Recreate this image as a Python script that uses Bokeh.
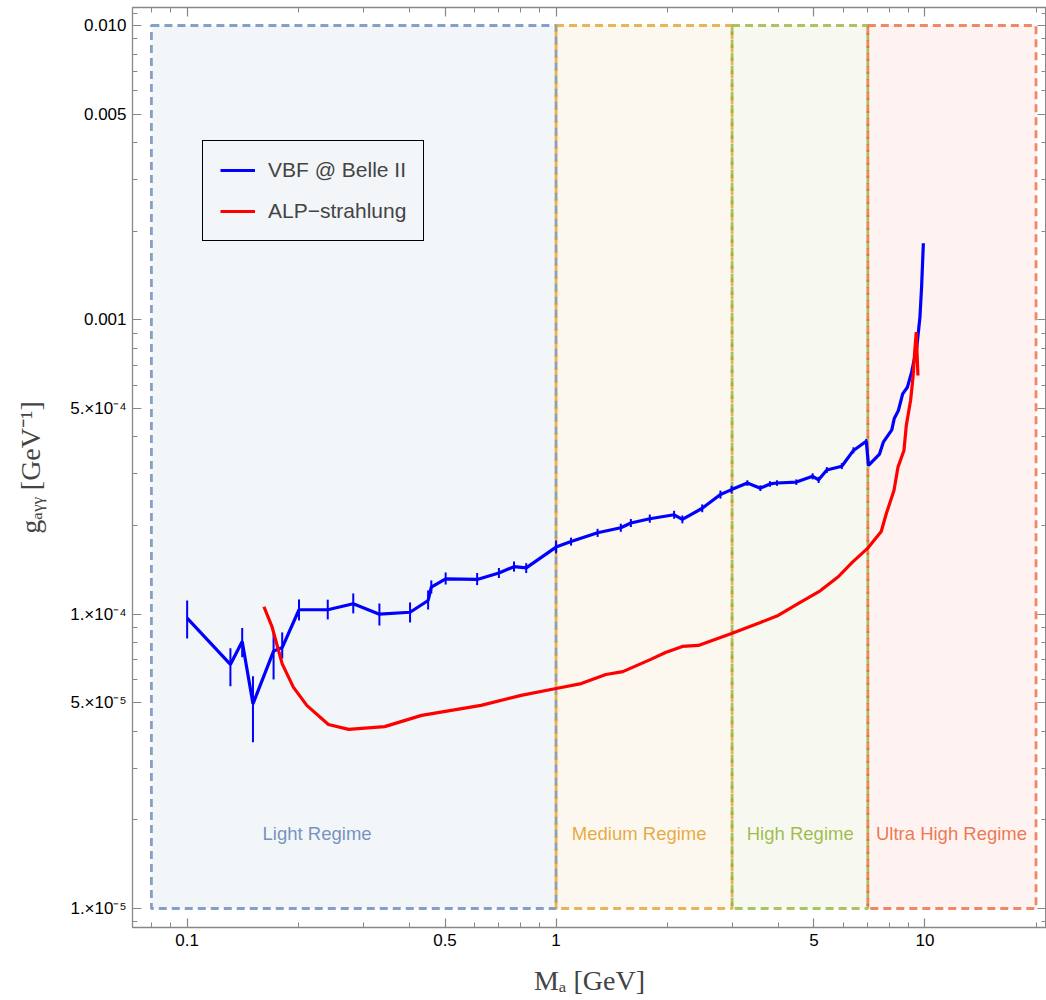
from bokeh.plotting import figure
from bokeh.models import Range1d, FixedTicker, LogAxis, Legend, LegendItem
from bokeh.embed import file_html
from bokeh.resources import INLINE
from bokeh.core.properties import value

# ---------------- data ----------------
vbf_m = [0.100, 0.131, 0.141, 0.1508, 0.1715, 0.181, 0.201, 0.2405, 0.282, 0.332,
         0.402, 0.450, 0.459, 0.502, 0.611, 0.700, 0.769, 0.830, 1.000, 1.098,
         1.296, 1.498, 1.595, 1.795, 2.089, 2.20, 2.49, 2.79, 2.99, 3.30,
         3.58, 3.80, 3.97, 4.48, 4.96, 5.15, 5.42, 5.95, 6.40, 6.93,
         7.03, 7.53, 7.71, 8.13, 8.25, 8.47, 8.70, 8.96, 9.20, 9.50,
         9.69, 9.79, 9.90]
vbf_g = [9.7e-5, 6.75e-5, 8.08e-5, 4.96e-5, 7.49e-5, 7.7e-5, 1.035e-4, 1.035e-4, 1.085e-4, 1.0e-4,
         1.015e-4, 1.113e-4, 1.235e-4, 1.318e-4, 1.312e-4, 1.38e-4, 1.45e-4, 1.436e-4, 1.69e-4, 1.766e-4,
         1.89e-4, 1.966e-4, 2.04e-4, 2.11e-4, 2.176e-4, 2.10e-4, 2.29e-4, 2.55e-4, 2.65e-4, 2.79e-4,
         2.68e-4, 2.77e-4, 2.79e-4, 2.81e-4, 2.94e-4, 2.86e-4, 3.09e-4, 3.18e-4, 3.60e-4, 3.87e-4,
         3.20e-4, 3.50e-4, 3.84e-4, 4.23e-4, 4.61e-4, 4.92e-4, 5.60e-4, 5.90e-4, 6.64e-4, 8.07e-4,
         1.02e-3, 1.29e-3, 1.82e-3]

# error bars (first 40 points)
err_m = vbf_m[:40]
err_lo = [8.27e-5, 5.69e-5, 7.14e-5, 3.67e-5, 6.0e-5, 7.07e-5, 9.52e-5, 9.6e-5, 1.006e-4, 9.15e-5,
          9.37e-5, 1.037e-4, 1.176e-4, 1.261e-4, 1.255e-4, 1.327e-4, 1.395e-4, 1.38e-4, 1.608e-4, 1.71e-4,
          1.83e-4, 1.905e-4, 1.977e-4, 2.045e-4, 2.11e-4, 2.035e-4, 2.22e-4, 2.47e-4, 2.57e-4, 2.73e-4,
          2.62e-4, 2.71e-4, 2.73e-4, 2.75e-4, 2.87e-4, 2.79e-4, 3.02e-4, 3.11e-4, 3.52e-4, 3.80e-4]
err_hi = [1.113e-4, 7.66e-5, 8.98e-5, 6.15e-5, 8.6e-5, 8.67e-5, 1.122e-4, 1.12e-4, 1.176e-4, 1.087e-4,
          1.096e-4, 1.204e-4, 1.302e-4, 1.386e-4, 1.38e-4, 1.435e-4, 1.51e-4, 1.49e-4, 1.78e-4, 1.82e-4,
          1.95e-4, 2.03e-4, 2.105e-4, 2.18e-4, 2.245e-4, 2.165e-4, 2.36e-4, 2.63e-4, 2.73e-4, 2.85e-4,
          2.74e-4, 2.83e-4, 2.85e-4, 2.87e-4, 3.01e-4, 2.93e-4, 3.16e-4, 3.26e-4, 3.69e-4, 3.94e-4]

alp_m = [0.1615, 0.170, 0.181, 0.194, 0.211, 0.2415, 0.274, 0.343, 0.432, 0.626,
         0.804, 1.0, 1.17, 1.365, 1.517, 1.806, 1.98, 2.2, 2.43, 2.99,
         3.58, 4.0, 4.59, 5.2, 5.82, 6.35, 7.01, 7.61, 7.85, 8.24,
         8.45, 8.77, 8.9, 9.14, 9.28, 9.37, 9.47, 9.57]
alp_g = [1.06e-4, 9.03e-5, 6.78e-5, 5.65e-5, 4.9e-5, 4.22e-5, 4.06e-5, 4.15e-5, 4.53e-5, 4.9e-5,
         5.3e-5, 5.59e-5, 5.81e-5, 6.24e-5, 6.38e-5, 7.02e-5, 7.41e-5, 7.77e-5, 7.83e-5, 8.6e-5,
         9.37e-5, 9.9e-5, 1.096e-4, 1.2e-4, 1.34e-4, 1.5e-4, 1.68e-4, 1.91e-4, 2.19e-4, 2.63e-4,
         3.16e-4, 3.6e-4, 4.38e-4, 5.32e-4, 6.38e-4, 7.67e-4, 9.08e-4, 6.47e-4]

regime_names = ["Light Regime", "Medium Regime", "High Regime", "Ultra High Regime"]
regime_lo = [0.08, 1.0, 3.0, 7.0]
regime_hi = [1.0, 3.0, 7.0, 20.0]
regime_bottom = [1e-5, 1e-5, 1e-5, 1e-5]
regime_top = [0.01, 0.01, 0.01, 0.01]
regime_label_m = [0.225, 1.68, 4.59, 11.8]
regime_label_g = [1.8e-5, 1.8e-5, 1.8e-5, 1.8e-5]
regime_colors = ["#5E81B5", "#E19C24", "#8FB032", "#EB6235"]

x_major = [0.1, 0.5, 1.0, 5.0, 10.0]
x_minor = [0.08, 0.09, 0.2, 0.3, 0.4, 0.6, 0.7, 0.8, 0.9, 2.0, 3.0, 4.0, 6.0, 7.0, 8.0, 9.0, 20.0]
x_labels = ["0.1", "0.5", "1", "5", "10"]
y_major = [1e-5, 5e-5, 1e-4, 5e-4, 1e-3, 5e-3, 1e-2]
y_minor = [9e-6, 2e-5, 3e-5, 4e-5, 6e-5, 7e-5, 8e-5, 9e-5,
           2e-4, 3e-4, 4e-4, 6e-4, 7e-4, 8e-4, 9e-4,
           2e-3, 3e-3, 4e-3, 6e-3, 7e-3, 8e-3, 9e-3, 1.1e-2]
y_labels = ["1.×10⁻⁵", "5.×10⁻⁵", "1.×10⁻⁴", "5.×10⁻⁴", "0.001", "0.005", "0.010"]

# ---------------- figure ----------------
p = figure(width=1046, height=1000, x_axis_type="log", y_axis_type="log",
           x_range=Range1d(0.0711, 21.35), y_range=Range1d(8.62e-6, 0.01151),
           output_backend="svg", toolbar_location=None,
           min_border_left=132, min_border_right=0, min_border_top=7, min_border_bottom=73)
p.xgrid.visible = False
p.ygrid.visible = False
p.outline_line_color = "#888888"
p.background_fill_color = "white"
p.border_fill_color = "white"

p.quad(left=regime_lo, right=regime_hi, bottom=regime_bottom, top=regime_top,
       fill_color=regime_colors, fill_alpha=0.075,
       line_color=regime_colors, line_alpha=0.75, line_width=2.8, line_dash="8 5")

p.text(x=regime_label_m, y=regime_label_g, text=regime_names, text_color=regime_colors,
       text_alpha=0.85, text_align="center", text_baseline="middle",
       text_font=value("Liberation Sans"), text_font_size="18.5px")

p.segment(x0=err_m, y0=err_lo, x1=err_m, y1=err_hi, line_color="#0000FF", line_width=2)
blue = p.line(vbf_m, vbf_g, line_color="#0000FF", line_width=3.2)
red = p.line(alp_m, alp_g, line_color="#FF0000", line_width=3.2)

xt = FixedTicker(ticks=x_major, minor_ticks=x_minor)
yt = FixedTicker(ticks=y_major, minor_ticks=y_minor)

def style(ax, labels=True, standoff=6):
    ax.axis_line_color = "#888888"
    ax.axis_line_width = 1.3
    ax.major_tick_line_color = "#888888"
    ax.minor_tick_line_color = "#888888"
    ax.major_tick_line_width = 1.2
    ax.minor_tick_line_width = 1.0
    ax.major_tick_in = 9
    ax.major_tick_out = 0
    ax.minor_tick_in = 5
    ax.minor_tick_out = 0
    ax.major_label_text_font = "Liberation Sans"
    ax.major_label_text_font_size = "17px" if labels else "0px"
    ax.major_label_text_color = "black"
    ax.major_label_standoff = standoff if labels else 0

xa = p.xaxis[0]
xa.ticker = xt
xa.major_label_overrides = dict(zip(x_major, x_labels))
style(xa, standoff=6)
xa.axis_label = "Mₐ [GeV]"
xa.axis_label_text_font = "Liberation Serif"
xa.axis_label_text_font_size = "28px"
xa.axis_label_text_font_style = "normal"
xa.axis_label_standoff = 16

ya = p.yaxis[0]
ya.ticker = yt
ya.major_label_overrides = dict(zip(y_major, y_labels))
style(ya, standoff=6)
ya.axis_label = "gₐᵧᵧ [GeV⁻¹]"
ya.axis_label_text_font = "Liberation Serif"
ya.axis_label_text_font_size = "28px"
ya.axis_label_text_font_style = "normal"
ya.axis_label_standoff = 21

top = LogAxis(ticker=FixedTicker(ticks=x_major, minor_ticks=x_minor))
style(top, labels=False)
top.major_label_overrides = {t: "" for t in x_major}
p.add_layout(top, "above")
right = LogAxis(ticker=FixedTicker(ticks=y_major, minor_ticks=y_minor))
style(right, labels=False)
right.major_label_overrides = {t: "" for t in y_major}
p.add_layout(right, "right")

legend = Legend(items=[LegendItem(label="VBF @ Belle II", renderers=[blue]),
                       LegendItem(label="ALP−strahlung", renderers=[red])],
                location=(70, 686))
legend.border_line_color = "black"
legend.border_line_alpha = 1.0
legend.border_line_width = 1.8
legend.background_fill_alpha = 0
legend.label_text_font = "Liberation Sans"
legend.label_text_font_size = "21px"
legend.glyph_width = 35
legend.glyph_height = 24
legend.label_height = 24
legend.label_standoff = 13
legend.padding = 17
legend.spacing = 17
legend.margin = 0
p.add_layout(legend)

open("out.html", "w").write(file_html(p, INLINE))
